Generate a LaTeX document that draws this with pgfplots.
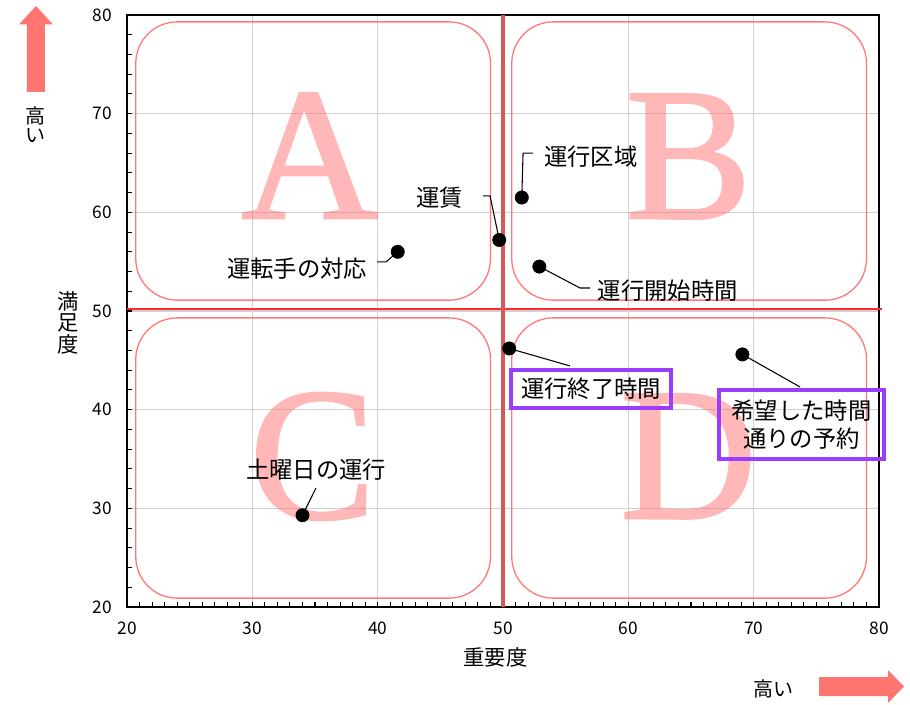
\documentclass[border=0pt]{standalone}
\usepackage{fontspec}
\setmainfont{Noto Sans CJK JP}
\newfontfamily\bigserif[FakeBold=1.3]{Liberation Serif}
\usepackage{pgfplots}
\pgfplotsset{compat=1.18}
\usetikzlibrary{calc}

\definecolor{quadline}{HTML}{FF7B7B}
\definecolor{letterc}{HTML}{FF7070}
\definecolor{gridc}{HTML}{D0D0D0}
\definecolor{vline}{HTML}{D65858}
\definecolor{hline}{HTML}{FF2A2A}
\definecolor{boxc}{HTML}{9B3DFF}
\definecolor{arrowc}{HTML}{FF7570}

\newcommand\lbl{\fontsize{17.5}{21}\selectfont}
\newcommand\quadfont{\bigserif\fontsize{142}{142}\selectfont}

\begin{document}
\begin{tikzpicture}
\begin{axis}[
  name=ax, at={(0,0)}, anchor=south west,
  width=564pt, height=444pt, scale only axis,
  xmin=20, xmax=80, ymin=20, ymax=80,
  xtick={20,30,...,80}, ytick={20,30,...,80},
  minor x tick num=9, minor y tick num=4,
  tick pos=left, tick align=inside,
  major tick length=4pt, minor tick length=4pt,
  every tick/.style={black, line width=0.8pt},
  axis line style={line width=1.5pt},
  grid=major, major grid style={draw=gridc, line width=1.1pt},
  tick label style={font=\fontsize{13}{14}\selectfont},
  /pgf/number format/assume math mode=true,
  xticklabel style={yshift=-8pt},
  yticklabel style={xshift=-8pt},
  clip=false,
]
% quadrant frames
\draw[quadline, line width=1pt, rounded corners=31pt] (axis cs:20.7,79.3) rectangle (axis cs:49.0,51.1);
\draw[quadline, line width=1pt, rounded corners=31pt] (axis cs:50.7,79.3) rectangle (axis cs:79.0,51.1);
\draw[quadline, line width=1pt, rounded corners=31pt] (axis cs:20.7,49.3) rectangle (axis cs:49.0,20.9);
\draw[quadline, line width=1pt, rounded corners=31pt] (axis cs:50.7,49.3) rectangle (axis cs:79.0,20.9);

% big letters
\begin{scope}[transparency group, opacity=0.5]
\node[anchor=base, text=letterc, font=\quadfont, inner sep=0pt] at (axis cs:34.6,59.4) {A};
\node[anchor=base, text=letterc, font=\quadfont, inner sep=0pt] at (axis cs:64.8,59.4) {B};
\node[anchor=base, text=letterc, font=\quadfont, inner sep=0pt] at (axis cs:34.8,29.0) {C};
\node[anchor=base, text=letterc, font=\quadfont, inner sep=0pt] at (axis cs:64.8,29.0) {D};
\end{scope}

% centre lines
\draw[hline, line width=2pt] (axis cs:20,50.2) -- (axis cs:80.2,50.2);
\draw[vline, line width=3pt] (axis cs:50,20) -- (axis cs:50,80);

% leader lines
\draw[black, line width=0.8pt] (axis cs:41.6,56.0) -- (axis cs:40.67,54.97) -- (axis cs:39.95,54.97);
\draw[black, line width=0.8pt] (axis cs:49.7,57.2) -- (axis cs:48.97,61.66) -- (axis cs:48.41,61.66);
\draw[black, line width=0.8pt] (axis cs:51.5,61.5) -- (axis cs:51.6,66.0) -- (axis cs:52.4,66.0);
\draw[black, line width=0.8pt] (axis cs:52.9,54.5) -- (axis cs:56.15,52.33) -- (axis cs:56.95,52.33);
\draw[black, line width=0.8pt] (axis cs:50.5,46.2) -- (axis cs:55.35,44.43);
\draw[black, line width=0.8pt] (axis cs:69.1,45.6) -- (axis cs:73.7,42.3);
\draw[black, line width=0.8pt] (axis cs:34.0,29.3) -- (axis cs:35.08,32.06);

% points
\addplot[only marks, mark=*, mark size=5pt, black] coordinates {
  (41.6,56.0) (49.7,57.2) (51.5,61.5) (52.9,54.5)
  (50.5,46.2) (69.1,45.6) (34.0,29.3)
};

% labels
\node[anchor=east, font=\lbl] at (axis cs:39.55,54.3) {運転手の対応};
\node[anchor=east, font=\lbl] at (axis cs:47.2,61.5) {運賃};
\node[anchor=west, font=\lbl] at (axis cs:52.9,65.6) {運行区域};
\node[anchor=west, font=\lbl] at (axis cs:57.2,52.1) {運行開始時間};
\node[font=\lbl] at (axis cs:35.08,33.9) {土曜日の運行};
\node[draw=boxc, line width=3pt, minimum width=120pt, minimum height=28.5pt, font=\lbl, inner sep=2pt]
  at (axis cs:57.03,42.1) {運行終了時間};
\node[draw=boxc, line width=3pt, minimum width=124pt, minimum height=52pt, font=\lbl, align=center, inner sep=2pt]
  at (axis cs:73.82,38.5) {希望した時間\\通りの予約};

% axis titles
\node[font=\fontsize{16}{16}\selectfont] at (axis cs:49.4,20) [yshift=-37.5pt] {重要度};
\node[font=\fontsize{16}{16}\selectfont, align=center] at (axis cs:20,48.8) [xshift=-44.25pt] {満\\足\\度};
\end{axis}

% direction arrows
\begin{scope}[shift={(ax.north west)}, x=0.75pt, y=0.75pt]
  \fill[arrowc] (-100,-77) -- (-100,-9.5) -- (-108,-9.5) -- (-91,9) -- (-74,-9.5) -- (-82,-9.5) -- (-82,-77) -- cycle;
  \node[font=\fontsize{15}{14}\selectfont, align=center] at (-91,-110) {高\\い};
\end{scope}
\begin{scope}[shift={(ax.south east)}, x=0.75pt, y=0.75pt]
  \fill[arrowc] (-60,-70) -- (9,-70) -- (9,-63) -- (25,-79.5) -- (9,-96) -- (9,-89) -- (-60,-89) -- cycle;
  \node[font=\fontsize{15}{18}\selectfont] at (-106,-82) {高い};
\end{scope}

\pgfresetboundingbox
\path ($(ax.south west)+(-95.25pt,-72.75pt)$) rectangle ($(ax.north east)+(23.25pt,11.25pt)$);
\end{tikzpicture}
\end{document}
